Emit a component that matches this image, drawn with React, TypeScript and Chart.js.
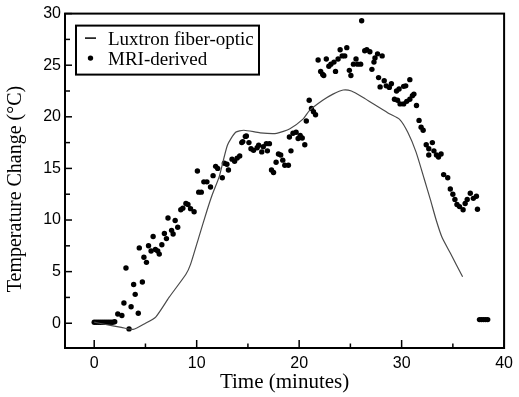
import React, { useEffect, useRef } from "react";
import { Chart, registerables } from "chart.js";

Chart.register(...registerables);

// Luxtron fiber-optic probe (line)
const luxTime = [0, 1.0, 2.65, 3.8, 5.0, 6.0, 7.3, 8.95, 9.4, 10.2, 11.0, 11.5, 12.2, 13.0, 13.8, 14.6, 16.2, 17.8, 19.1, 20.4, 21.0, 22.3, 23.3, 24.3, 25.1, 26.2, 27.5, 28.8, 29.8, 30.6, 31.4, 32.2, 32.8, 33.4, 33.95, 34.75, 35.95];
const luxTemp = [0.1, -0.1, -0.4, -0.6, 0.0, 0.6, 2.5, 4.75, 5.7, 8.3, 10.9, 12.4, 14.2, 17.25, 18.5, 18.7, 18.45, 18.4, 18.85, 19.8, 20.6, 21.6, 22.2, 22.6, 22.5, 21.9, 21.1, 20.3, 19.75, 18.5, 16.6, 14.0, 12.0, 9.9, 8.3, 6.8, 4.5];

// MRI-derived (points)
const mriTime = [
  0, 0.2, 0.4, 0.6, 0.8, 1.0, 1.2, 1.4, 1.6, 1.8, 2.0,
  2.3, 2.7, 3.4, 2.9, 3.6, 4.3, 4.0, 3.85, 4.7, 3.1, 4.4, 4.85, 5.1, 5.3, 5.55, 5.75, 5.97, 6.2, 6.35, 6.6, 6.85, 7.05, 7.2, 7.55, 7.7, 7.9, 8.15, 8.45, 8.65, 8.95, 9.15, 9.4, 9.75,
  10.07, 10.2, 10.45, 10.7, 11.0, 11.35, 11.6, 11.85, 12.05, 12.5, 12.7, 12.95, 13.1, 13.45, 13.7, 13.95, 14.2, 14.4, 14.5, 14.75, 14.85, 15.1, 15.3, 15.55, 15.9, 16.05, 16.35, 16.5, 16.8, 16.9, 17.1, 17.3, 17.5, 17.75, 17.98, 18.2, 18.4, 18.6, 18.95, 19.2, 19.05, 19.4, 19.7, 19.9, 20.1, 20.3, 20.55, 20.7, 20.98, 21.2, 21.4, 21.6,
  21.85, 22.1, 22.3, 22.4, 22.65, 22.9, 23.1, 23.4, 23.55, 23.8, 24.0, 24.2, 24.45, 24.65, 24.9, 25.05, 25.3, 25.55, 25.7, 26.0, 26.1, 26.4, 26.6, 26.9, 27.1, 27.3, 27.4, 27.65, 28.1, 27.75, 27.9, 28.3, 28.5, 28.8, 29.0, 29.3, 29.5,
  29.75, 30.2, 30.4, 30.8, 29.6, 29.85, 30.2, 30.5, 30.8, 31.05, 31.2, 31.45, 31.7, 31.9, 32.1, 32.4, 32.65, 33.0, 32.65, 33.15, 33.4, 33.6, 33.85, 34.1, 34.5, 34.75, 35.0, 35.2, 35.4, 35.65, 36.0, 36.2, 36.4, 36.7, 37.0, 37.3, 37.4,
  37.6, 37.8, 38.0, 38.2, 38.4,
];
const mriTemp = [
  0.1, 0.1, 0.1, 0.1, 0.1, 0.1, 0.1, 0.1, 0.1, 0.1, 0.15,
  0.9, 0.75, -0.55, 1.96, 1.6, 0.96, 2.8, 3.75, 4.0, 5.35, 7.3, 6.4, 5.9, 7.5, 7.0, 8.4, 7.15, 7.0, 6.7, 7.6, 8.7, 8.2, 10.2, 9.0, 8.65, 9.95, 9.3, 11.0, 11.15, 11.6, 11.5, 11.1, 10.8,
  14.75, 12.7, 12.7, 13.7, 13.7, 13.2, 14.3, 15.2, 15.0, 14.1, 15.5, 15.4, 14.85, 15.9, 15.7, 16.0, 16.2, 17.5, 17.6, 18.1, 18.15, 17.5, 16.9, 16.75, 17.0, 17.25, 16.6, 17.1, 17.4, 16.7, 17.4, 14.85, 14.6, 15.6, 16.4, 16.3, 15.8, 15.3, 15.3, 16.7, 18.05, 18.4, 18.5, 17.9, 18.2, 17.95, 17.3, 19.6, 21.6, 20.8, 20.5, 20.2,
  25.5, 24.4, 24.1, 24.0, 25.6, 24.9, 25.1, 25.3, 24.4, 25.6, 26.5, 25.9, 25.9, 26.7, 24.5, 24.0, 25.1, 25.6, 25.1, 25.1, 29.3, 26.4, 26.5, 26.3, 24.6, 25.3, 25.7, 26.1, 25.9, 23.8, 22.9, 23.5, 23.0, 22.85, 23.2, 21.7, 22.5,
  22.7, 22.95, 23.0, 23.6, 21.6, 21.25, 21.25, 21.5, 21.7, 22.05, 22.2, 21.1, 19.65, 19.0, 18.7, 17.3, 16.9, 17.5, 16.3, 16.7, 16.3, 16.1, 16.4, 14.4, 14.1, 13.0, 12.5, 12.0, 11.5, 11.3, 11.0, 11.6, 12.0, 12.6, 12.1, 12.3, 11.05,
  0.35, 0.35, 0.35, 0.35, 0.35,
];

const xTicks = [0, 10, 20, 30, 40];
const xMinorTicks = [5, 15, 25, 35];
const yTicks = [0, 5, 10, 15, 20, 25, 30];
const yMinorTicks = [-2.5, 2.5, 7.5, 12.5, 17.5, 22.5, 27.5];
const legendLabels = ["Luxtron fiber-optic", "MRI-derived"];
const xTitle = "Time (minutes)";
const yTitle = "Temperature Change (°C)";

const SERIF = "'Liberation Serif', 'Times New Roman', serif";
const SANS = "'Liberation Sans', Arial, sans-serif";

const framePlugin = {
  id: "frameAndTicks",
  afterDraw(chart: any) {
    const { ctx, chartArea } = chart;
    const xs = chart.scales.x;
    const ys = chart.scales.y;
    const { left, right, top, bottom } = chartArea;
    ctx.save();
    ctx.strokeStyle = "#000";
    ctx.lineWidth = 1.5;
    const tick = (x1: number, y1: number, x2: number, y2: number) => {
      ctx.beginPath();
      ctx.moveTo(x1, y1);
      ctx.lineTo(x2, y2);
      ctx.stroke();
    };
    xTicks.forEach((v) => {
      const p = xs.getPixelForValue(v);
      tick(p, bottom, p, bottom - 8);
    });
    xMinorTicks.forEach((v) => {
      const p = xs.getPixelForValue(v);
      tick(p, bottom, p, bottom - 4.5);
    });
    yTicks.forEach((v) => {
      const p = ys.getPixelForValue(v);
      tick(left, p, left + 7, p);
    });
    yMinorTicks.forEach((v) => {
      const p = ys.getPixelForValue(v);
      if (p > top && p < bottom) tick(left, p, left + 5, p);
    });
    ctx.lineWidth = 2;
    ctx.strokeRect(left, top, right - left, bottom - top);

    // y-axis title
    ctx.fillStyle = "#000";
    ctx.font = "20px " + SERIF;
    ctx.textAlign = "center";
    ctx.textBaseline = "middle";
    ctx.save();
    ctx.translate(16, 189);
    ctx.rotate(-Math.PI / 2);
    ctx.fillText(yTitle, 0, 0);
    ctx.restore();

    // legend
    const bx = left + 11;
    const by = top + 12;
    const bw = 183;
    const bh = 49;
    ctx.fillStyle = "#fff";
    ctx.fillRect(bx, by, bw, bh);
    ctx.lineWidth = 2;
    ctx.strokeRect(bx, by, bw, bh);
    ctx.fillStyle = "#000";
    ctx.font = "19px " + SERIF;
    ctx.textBaseline = "alphabetic";
    ctx.textAlign = "left";
    ctx.fillText(legendLabels[0], bx + 32, by + 19.5);
    ctx.fillText(legendLabels[1], bx + 32, by + 39.5);
    ctx.lineWidth = 1.5;
    tick(bx + 9, by + 12.5, bx + 20, by + 12.5);
    ctx.beginPath();
    ctx.arc(bx + 14.5, by + 32.5, 2.7, 0, Math.PI * 2);
    ctx.fill();
    ctx.restore();
  },
};

export default function App() {
  const canvasRef = useRef<HTMLCanvasElement | null>(null);

  useEffect(() => {
    if (!canvasRef.current) return;
    const chart = new Chart(canvasRef.current, {
      type: "scatter",
      data: {
        datasets: [
          {
            label: legendLabels[0],
            data: luxTime.map((t, i) => ({ x: t, y: luxTemp[i] })),
            showLine: true,
            borderColor: "#4a4a4a",
            borderWidth: 1.2,
            pointRadius: 0,
            fill: false,
            tension: 0.2,
          },
          {
            label: legendLabels[1],
            data: mriTime.map((t, i) => ({ x: t, y: mriTemp[i] })),
            showLine: false,
            pointRadius: 2.7,
            pointBorderWidth: 0,
            backgroundColor: "#000",
            borderColor: "#000",
          },
        ],
      },
      options: {
        animation: false,
        responsive: false,
        maintainAspectRatio: false,
        layout: { padding: { left: 0, right: 11, top: 10, bottom: 0 } },
        plugins: { legend: { display: false }, tooltip: { enabled: false } },
        scales: {
          x: {
            type: "linear",
            min: -2.85,
            max: 40,
            grid: { display: false, drawTicks: false },
            border: { display: false },
            afterBuildTicks: (s: any) => {
              s.ticks = xTicks.map((v) => ({ value: v }));
            },
            afterFit: (s: any) => {
              s.height = 49;
            },
            ticks: {
              color: "#000",
              font: { family: SANS, size: 16 },
              padding: 6,
              maxRotation: 0,
              autoSkip: false,
            },
            title: {
              display: true,
              text: xTitle,
              color: "#000",
              font: { family: SERIF, size: 21 },
              padding: { top: 0, bottom: 2 },
            },
          },
          y: {
            type: "linear",
            min: -2.4,
            max: 30,
            grid: { display: false, drawTicks: false },
            border: { display: false },
            afterBuildTicks: (s: any) => {
              s.ticks = yTicks.map((v) => ({ value: v }));
            },
            afterFit: (s: any) => {
              s.width = 65;
            },
            ticks: {
              color: "#000",
              font: { family: SANS, size: 16 },
              padding: 4,
              autoSkip: false,
            },
          },
        },
      },
      plugins: [framePlugin],
    });
    return () => chart.destroy();
  }, []);

  return (
    <div style={{ position: "absolute", left: 0, top: 0, width: 519, height: 397, background: "#fff" }}>
      <canvas ref={canvasRef} width={519} height={397} style={{ display: "block" }} />
    </div>
  );
}
